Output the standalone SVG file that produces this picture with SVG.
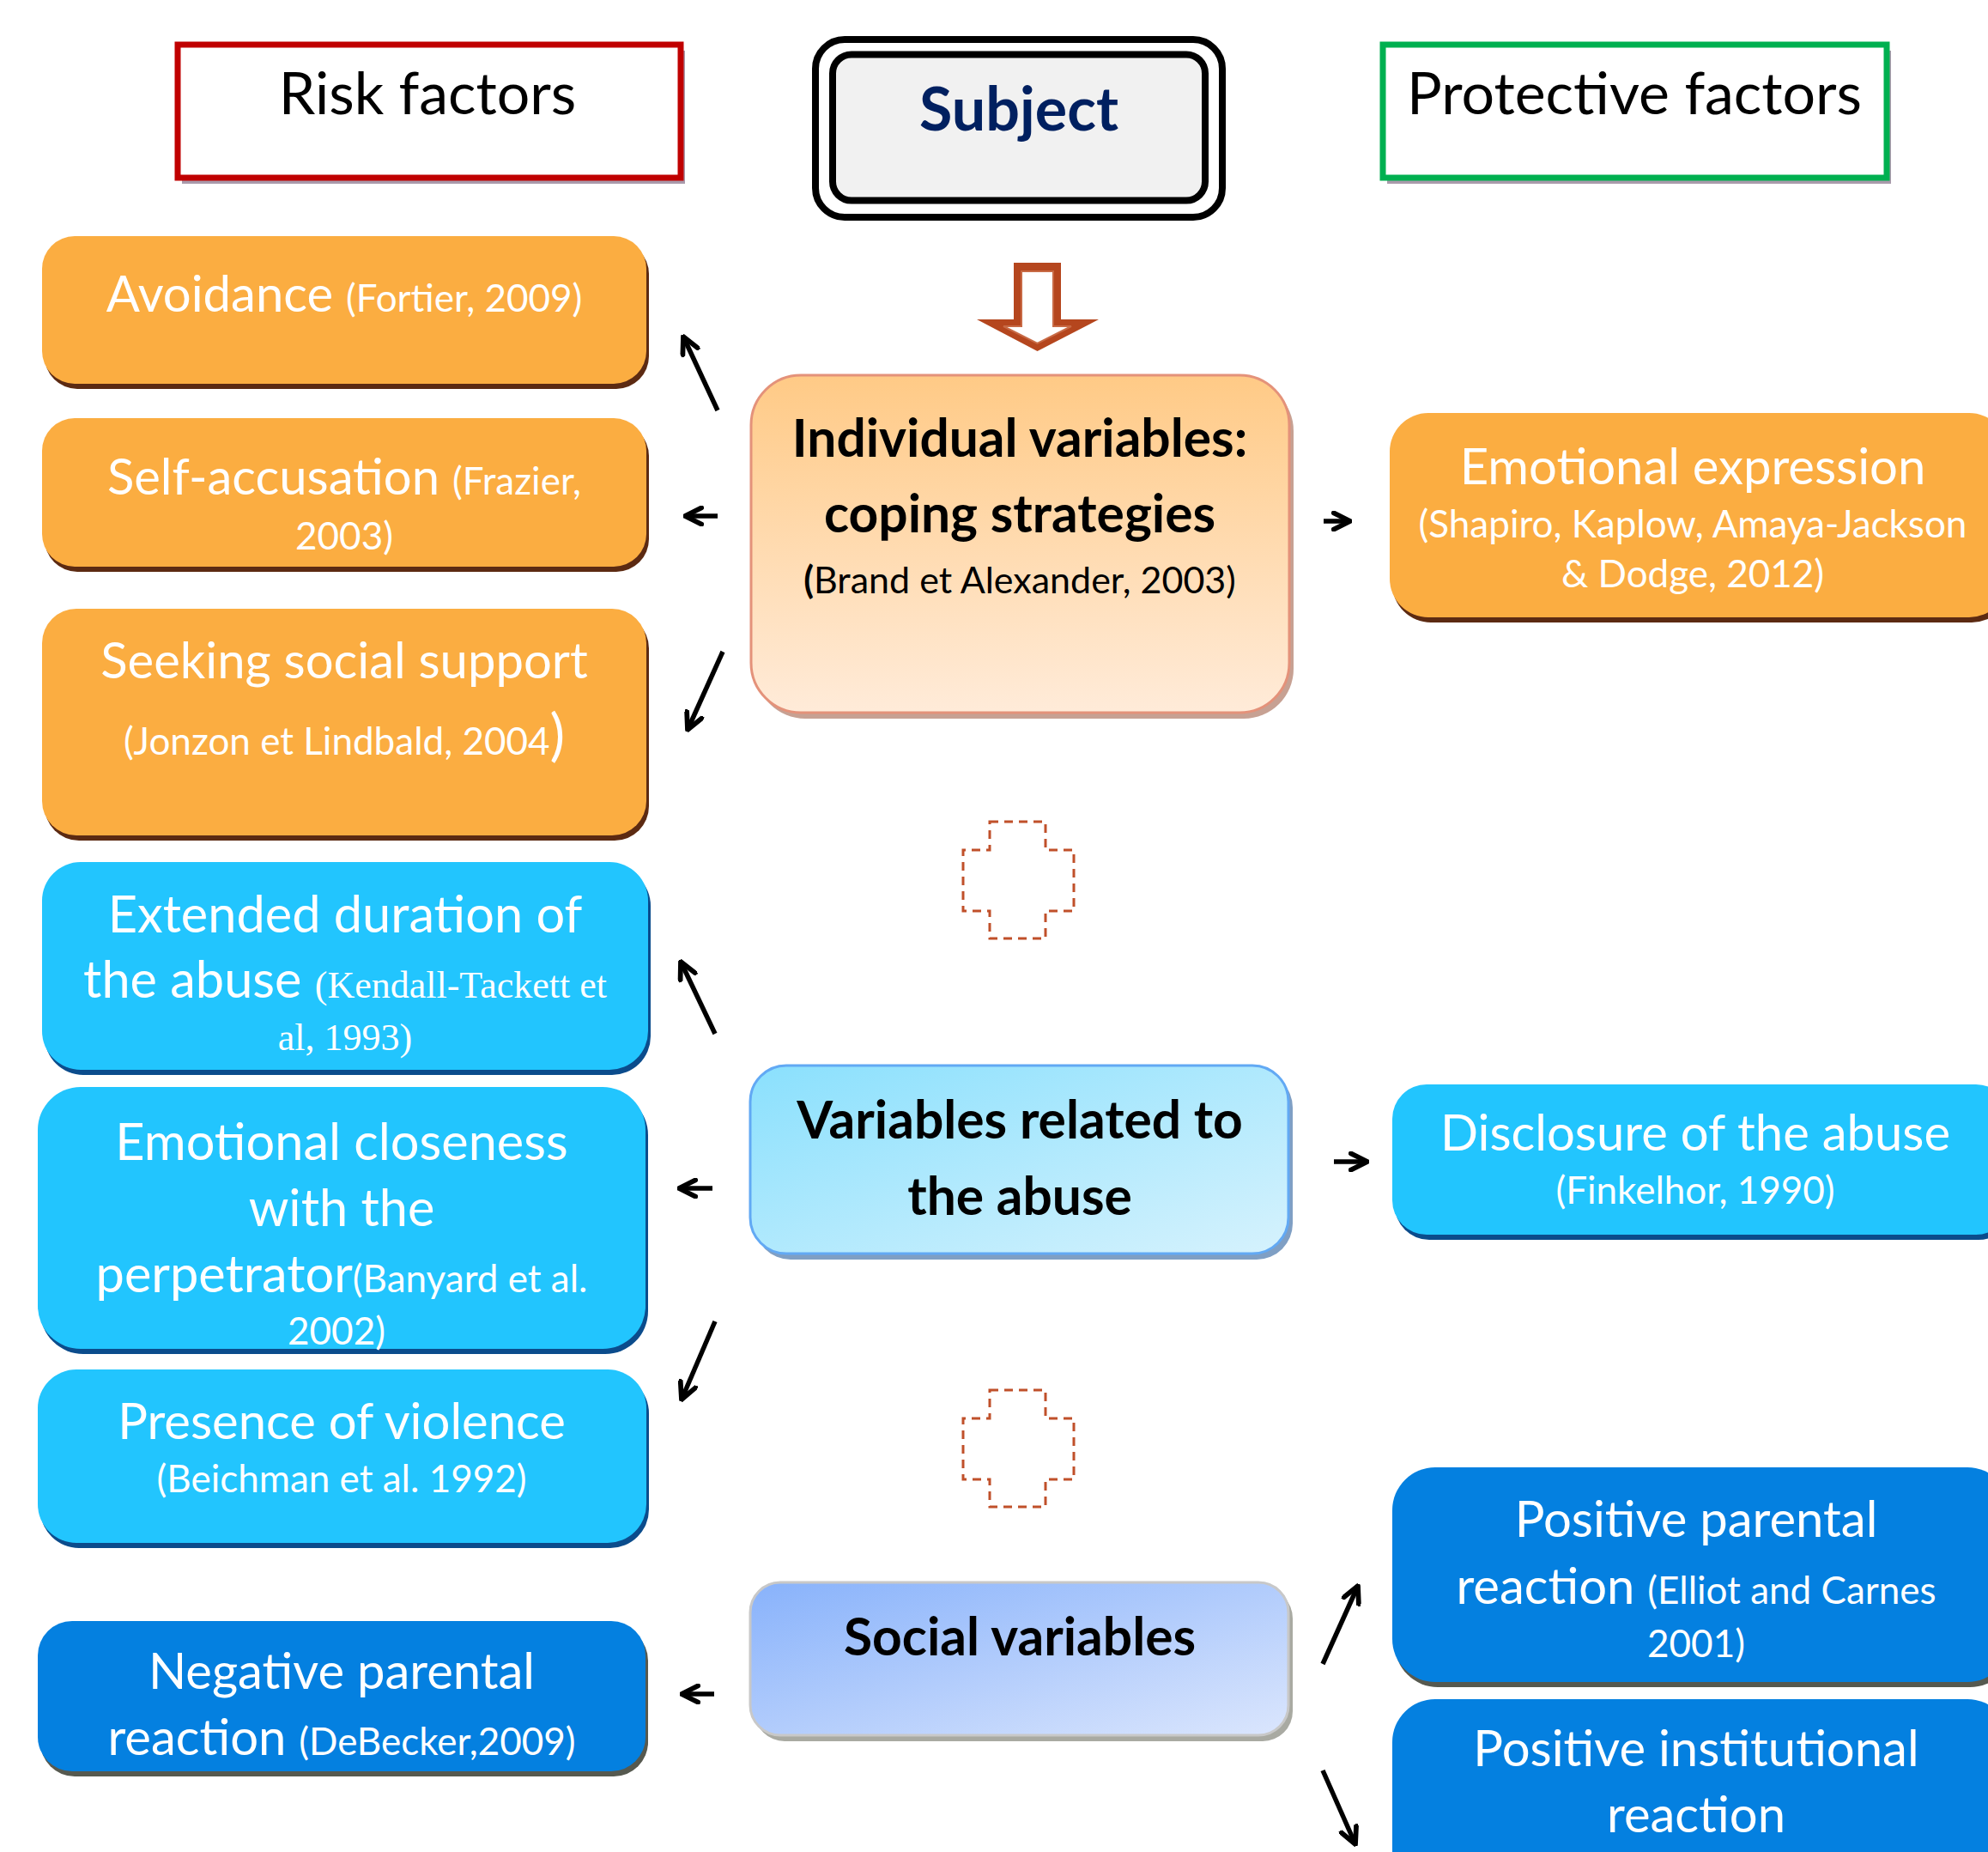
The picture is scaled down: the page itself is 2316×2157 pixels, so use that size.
<svg xmlns="http://www.w3.org/2000/svg" width="2316" height="2157" viewBox="0 0 2316 2157">
<style>
.t{font-family:Lato,"Liberation Sans",sans-serif;text-anchor:middle;}
.w{fill:#ffffff;}
.m{font-size:58px;}
.m2{font-size:59.5px;}
.c{font-size:44px;}
.b{font-weight:bold;fill:#000000;}
.hd{font-size:68px;fill:#000000;}
.orange{fill:#fbad41;}
.osh{fill:#5c2a12;}
.lb{fill:#22c5fe;}
.lbsh{fill:#0b4c8c;}
.db{fill:#0480e0;}
.dbsh{fill:#56594f;}
.conn line{stroke:#000;stroke-width:5.5;marker-end:url(#arr);}
.cross{fill:none;stroke:#c0502a;stroke-width:3;stroke-dasharray:10 7;}
</style>
<defs>
<marker id="arr" viewBox="0 0 10 10" refX="9" refY="5" markerWidth="24" markerHeight="24" markerUnits="userSpaceOnUse" orient="auto">
<path d="M1,1 L9,5 L1,9" fill="none" stroke="#000" stroke-width="2.4" stroke-linecap="round" stroke-linejoin="round"/>
</marker>
<linearGradient id="gInd" x1="0" y1="0" x2="0" y2="1">
<stop offset="0" stop-color="#ffca86"/>
<stop offset="1" stop-color="#ffebd9"/>
</linearGradient>
<linearGradient id="gAb" x1="0" y1="0" x2="1" y2="1">
<stop offset="0" stop-color="#8ae0fd"/>
<stop offset="1" stop-color="#d6f2fd"/>
</linearGradient>
<linearGradient id="gSoc" x1="0" y1="0" x2="1" y2="1">
<stop offset="0" stop-color="#88b2fb"/>
<stop offset="1" stop-color="#dbe6fd"/>
</linearGradient>
</defs>
<rect width="2316" height="2157" fill="#ffffff"/>

<g id="risk-factors">
<rect x="212" y="59" width="586" height="155" fill="#a99aab"/>
<rect x="207" y="52" width="586" height="155" fill="#ffffff" stroke="#c00000" stroke-width="7"/>
<text class="t hd" x="498" y="133">Risk factors</text>
</g>

<g id="protective-factors">
<rect x="1616" y="59" width="587" height="155" fill="#a99aab"/>
<rect x="1611" y="52" width="587" height="155" fill="#ffffff" stroke="#00b050" stroke-width="7"/>
<text class="t hd" x="1904" y="133">Protective factors</text>
</g>

<g id="subject">
<rect x="950" y="46" width="474" height="207" rx="34" fill="#ffffff" stroke="#000" stroke-width="8"/>
<rect x="970" y="63.5" width="434" height="170" rx="22" fill="#f1f1f1" stroke="#000" stroke-width="8"/>
<text class="t" x="1187" y="152" style="font-size:70px;font-weight:bold;fill:#002060">Subject</text>
</g>

<g id="down-arrow">
<polygon points="1181,306 1236,306 1236,372 1280,372 1208.5,409 1138,372 1181,372" fill="#b5461e"/>
<polygon points="1190,316 1227,316 1227,380 1248,380 1208.5,400 1169,380 1190,380" fill="#ffffff" stroke="#c86a45" stroke-width="2"/>
</g>

<g id="avoidance">
<rect x="52" y="281" width="704" height="172" rx="38" class="osh"/>
<rect x="49" y="275" width="704" height="172" rx="38" class="orange"/>
<text class="t w" x="401" y="363"><tspan class="m">Avoidance </tspan><tspan class="c">(Fortier, 2009)</tspan></text>
</g>

<g id="self-accusation">
<rect x="52" y="493" width="704" height="173" rx="38" class="osh"/>
<rect x="49" y="487" width="704" height="173" rx="38" class="orange"/>
<text class="t w" x="401" y="576"><tspan class="m">Self-accusation </tspan><tspan class="c">(Frazier,</tspan></text>
<text class="t w c" x="401" y="640">2003)</text>
</g>

<g id="seeking-social-support">
<rect x="52" y="715" width="704" height="264" rx="40" class="osh"/>
<rect x="49" y="709" width="704" height="264" rx="40" class="orange"/>
<text class="t w m" x="401" y="790">Seeking social support</text>
<text class="t w" x="401" y="879"><tspan class="c">(Jonzon et Lindbald, 2004</tspan><tspan style="font-size:66px">)</tspan></text>
</g>

<g id="individual-variables">
<rect x="880" y="444" width="627" height="393" rx="58" fill="#b98a78" opacity="0.8"/>
<rect x="875" y="437" width="627" height="393" rx="58" fill="url(#gInd)" stroke="#e4927a" stroke-width="3"/>
<text class="t b" x="1188" y="532" style="font-size:60.5px">Individual variables:</text>
<text class="t b" x="1188" y="620" style="font-size:60.5px">coping strategies</text>
<text class="t" x="1188" y="691" style="font-size:43px;fill:#000"><tspan font-weight="bold">(</tspan>Brand et Alexander, 2003)</text>
</g>

<g id="emotional-expression">
<rect x="1622" y="487" width="720" height="238" rx="45" class="osh"/>
<rect x="1619" y="481" width="720" height="238" rx="45" class="orange"/>
<text class="t w m" x="1972" y="564">Emotional expression</text>
<text class="t w c" x="1972" y="626">(Shapiro, Kaplow, Amaya-Jackson</text>
<text class="t w c" x="1972" y="684">&amp; Dodge, 2012)</text>
</g>

<path class="cross" d="M1153,957 H1218 V990 H1251 V1061 H1218 V1093 H1153 V1061 H1122 V990 H1153 Z"/>

<g id="extended-duration">
<rect x="52" y="1010" width="706" height="242" rx="45" class="lbsh"/>
<rect x="49" y="1004" width="706" height="242" rx="45" class="lb"/>
<text class="t w m2" x="402" y="1086">Extended duration of</text>
<text class="t w" x="402" y="1162"><tspan class="m2">the abuse </tspan><tspan style="font-family:'Liberation Serif',serif;font-size:44px">(Kendall-Tackett et</tspan></text>
<text class="t w" x="402" y="1223" style="font-family:'Liberation Serif',serif;font-size:44px">al, 1993)</text>
</g>

<g id="emotional-closeness">
<rect x="47" y="1272" width="708" height="305" rx="50" class="lbsh"/>
<rect x="44" y="1266" width="708" height="305" rx="50" class="lb"/>
<text class="t w m2" x="398" y="1351">Emotional closeness</text>
<text class="t w m2" x="398" y="1428">with the</text>
<text class="t w" x="398" y="1505"><tspan class="m2">perpetrator</tspan><tspan class="c">(Banyard et al.</tspan></text>
<text class="t w c" x="392" y="1566">2002)</text>
</g>

<g id="variables-abuse">
<rect x="879" y="1248" width="627" height="219" rx="42" fill="#7f9fc4"/>
<rect x="874" y="1241" width="627" height="219" rx="42" fill="url(#gAb)" stroke="#62a9f4" stroke-width="3"/>
<text class="t b" x="1188" y="1326" style="font-size:60.5px">Variables related to</text>
<text class="t b" x="1188" y="1415" style="font-size:60.5px">the abuse</text>
</g>

<g id="disclosure">
<rect x="1625" y="1269" width="720" height="175" rx="40" class="lbsh"/>
<rect x="1622" y="1263" width="720" height="175" rx="40" class="lb"/>
<text class="t w m" x="1975" y="1340">Disclosure of the abuse</text>
<text class="t w c" x="1975" y="1402">(Finkelhor, 1990)</text>
</g>

<g id="presence-violence">
<rect x="47" y="1601" width="709" height="202" rx="45" class="lbsh"/>
<rect x="44" y="1595" width="709" height="202" rx="45" class="lb"/>
<text class="t w m" x="398" y="1676">Presence of violence</text>
<text class="t w c" x="398" y="1738">(Beichman et al. 1992)</text>
</g>

<path class="cross" d="M1153,1619 H1218 V1652 H1251 V1723 H1218 V1755 H1153 V1723 H1122 V1652 H1153 Z"/>

<g id="social-variables">
<rect x="879" y="1850" width="627" height="178" rx="35" fill="#a9aaa2"/>
<rect x="874" y="1843" width="627" height="178" rx="35" fill="url(#gSoc)" stroke="#c8c8c8" stroke-width="3"/>
<text class="t b" x="1188" y="1928" style="font-size:60.5px">Social variables</text>
</g>

<g id="negative-parental">
<rect x="47" y="1894" width="708" height="175" rx="40" class="dbsh"/>
<rect x="44" y="1888" width="708" height="175" rx="40" class="db"/>
<text class="t w m" x="398" y="1967">Negative parental</text>
<text class="t w" x="398" y="2044"><tspan class="m">reaction </tspan><tspan class="c">(DeBecker,2009)</tspan></text>
</g>

<g id="positive-parental">
<rect x="1625" y="1715" width="720" height="250" rx="50" class="dbsh"/>
<rect x="1622" y="1709" width="720" height="250" rx="50" class="db"/>
<text class="t w m" x="1976" y="1790">Positive parental</text>
<text class="t w" x="1976" y="1868"><tspan class="m">reaction </tspan><tspan class="c">(Elliot and Carnes</tspan></text>
<text class="t w c" x="1976" y="1930">2001)</text>
</g>

<g id="positive-institutional">
<rect x="1625" y="1985" width="720" height="230" rx="50" class="dbsh"/>
<rect x="1622" y="1979" width="720" height="230" rx="50" class="db"/>
<text class="t w m" x="1976" y="2057">Positive institutional</text>
<text class="t w m" x="1976" y="2134">reaction</text>
</g>

<g id="connectors" class="conn">
<line x1="836" y1="478" x2="796" y2="392"/>
<line x1="836" y1="601" x2="798" y2="601"/>
<line x1="842" y1="759" x2="801" y2="850"/>
<line x1="1542" y1="607" x2="1573" y2="607"/>
<line x1="833" y1="1204" x2="793" y2="1120"/>
<line x1="830" y1="1384" x2="791" y2="1384"/>
<line x1="833" y1="1539" x2="794" y2="1630"/>
<line x1="1554" y1="1353" x2="1593" y2="1353"/>
<line x1="832" y1="1973" x2="794" y2="1973"/>
<line x1="1541" y1="1938" x2="1582" y2="1847"/>
<line x1="1541" y1="2062" x2="1579" y2="2148"/>
</g>
</svg>
